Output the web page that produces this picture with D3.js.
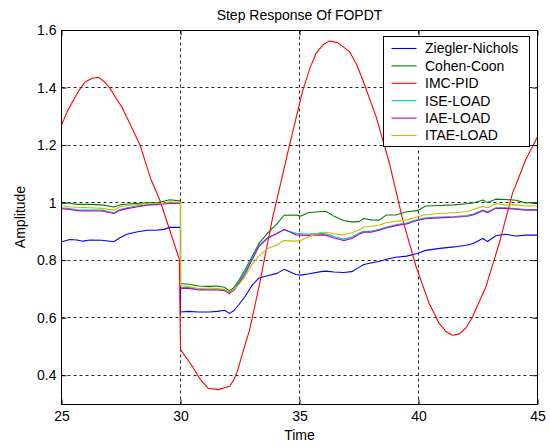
<!DOCTYPE html>
<html>
<head>
<meta charset="utf-8">
<script src="https://cdn.jsdelivr.net/npm/d3@7"></script>
<style>
  body { margin: 0; background: #fff; }
  svg { display: block; }
  text { font-family: "Liberation Sans", Arial, sans-serif; fill: #000; }
</style>
</head>
<body>
<svg id="chart" width="550" height="447"></svg>
<script>
// ---- data ----------------------------------------------------------------
// Shared time base for the five load-rejection responses (t = 30 appears twice:
// the value just before and just after the disturbance).
const time = [25.0, 25.35, 25.65, 25.9, 26.2, 26.7, 27.2, 27.45, 27.75, 28.15, 28.6, 29.0, 29.3, 29.55, 29.95, 30.0,
  30.0, 30.35, 30.75, 31.2, 31.55, 31.85, 32.05, 32.25, 32.45, 32.7, 33.0, 33.3, 33.65, 34.05, 34.35, 34.85, 35.05,
  35.35, 35.9, 36.1, 36.45, 36.85, 37.2, 37.5, 37.7, 38.0, 38.35, 38.65, 39.05, 39.5, 39.95, 40.3, 40.9, 41.5, 42.0,
  42.3, 42.7, 42.9, 43.25, 43.65, 44.1, 44.5, 45.0];

const zieglerNichols = [0.864, 0.872, 0.870, 0.866, 0.870, 0.869, 0.864, 0.878, 0.890, 0.898, 0.904, 0.904, 0.907, 0.914, 0.914, 0.914,
  0.620, 0.622, 0.620, 0.620, 0.622, 0.626, 0.615, 0.625, 0.645, 0.672, 0.712, 0.738, 0.746, 0.754, 0.768, 0.750, 0.748,
  0.752, 0.760, 0.762, 0.759, 0.757, 0.760, 0.775, 0.785, 0.790, 0.796, 0.803, 0.810, 0.814, 0.823, 0.834, 0.841, 0.846, 0.852,
  0.858, 0.875, 0.865, 0.885, 0.890, 0.884, 0.887, 0.887];

const cohenCoon = [1.000, 0.998, 0.994, 0.994, 0.994, 0.992, 0.985, 0.992, 0.995, 0.997, 0.999, 0.999, 1.005, 1.010, 1.006, 1.006,
  0.719, 0.716, 0.710, 0.709, 0.710, 0.706, 0.693, 0.705, 0.730, 0.765, 0.812, 0.858, 0.893, 0.926, 0.956, 0.957, 0.953,
  0.965, 0.969, 0.970, 0.953, 0.938, 0.933, 0.934, 0.945, 0.940, 0.939, 0.957, 0.957, 0.968, 0.972, 0.988, 0.990, 0.992, 0.996,
  0.999, 1.009, 1.000, 1.012, 1.011, 1.008, 0.999, 0.999];

const iseLoad = [0.982, 0.979, 0.975, 0.974, 0.974, 0.974, 0.965, 0.976, 0.982, 0.988, 0.993, 0.995, 0.997, 0.999, 0.999, 0.999,
  0.705, 0.705, 0.699, 0.699, 0.699, 0.697, 0.688, 0.700, 0.726, 0.757, 0.806, 0.851, 0.877, 0.893, 0.905, 0.893, 0.892,
  0.891, 0.893, 0.892, 0.882, 0.873, 0.880, 0.894, 0.900, 0.900, 0.907, 0.915, 0.923, 0.929, 0.941, 0.947, 0.950, 0.952, 0.955,
  0.960, 0.974, 0.968, 0.982, 0.982, 0.979, 0.976, 0.976];

const iaeLoad = [0.979, 0.976, 0.972, 0.971, 0.971, 0.971, 0.962, 0.973, 0.979, 0.985, 0.991, 0.993, 0.995, 0.997, 0.997, 0.997,
  0.702, 0.702, 0.696, 0.696, 0.696, 0.694, 0.684, 0.696, 0.720, 0.750, 0.800, 0.848, 0.876, 0.893, 0.907, 0.888, 0.887,
  0.886, 0.888, 0.887, 0.877, 0.868, 0.875, 0.890, 0.897, 0.897, 0.904, 0.912, 0.920, 0.926, 0.938, 0.944, 0.947, 0.949, 0.952,
  0.957, 0.972, 0.965, 0.980, 0.980, 0.977, 0.974, 0.974];

const itaeLoad = [0.991, 0.985, 0.984, 0.983, 0.982, 0.980, 0.974, 0.985, 0.990, 0.993, 0.996, 0.997, 0.998, 1.003, 1.000, 1.000,
  0.712, 0.708, 0.701, 0.703, 0.701, 0.699, 0.690, 0.700, 0.715, 0.742, 0.785, 0.815, 0.840, 0.853, 0.868, 0.866, 0.868,
  0.880, 0.897, 0.897, 0.892, 0.888, 0.895, 0.905, 0.915, 0.918, 0.922, 0.930, 0.935, 0.940, 0.950, 0.958, 0.962, 0.965, 0.968,
  0.976, 0.987, 0.982, 0.996, 0.992, 0.993, 0.988, 0.988];

// IMC-PID oscillates, so it has its own time base.
const imcTime = [25.0, 25.25, 25.5, 25.75, 26.0, 26.3, 26.55, 26.8, 27.04, 27.3, 27.53, 27.9, 28.3, 28.74, 29.13, 29.55, 29.95,
  30.0, 30.25, 30.52, 30.81, 31.15, 31.58, 32.07, 32.25, 32.4, 32.55, 32.9, 33.33, 33.6, 33.88, 34.24, 34.58, 35.14, 35.45,
  35.7, 36.0, 36.26, 36.6, 37.1, 37.4, 37.66, 38.22, 38.78, 39.34, 39.9, 40.45, 40.87, 41.15, 41.43, 41.7, 42.0, 42.27,
  42.83, 43.39, 43.95, 44.5, 45.0];
const imcPid = [1.270, 1.318, 1.356, 1.392, 1.420, 1.432, 1.436, 1.420, 1.397, 1.362, 1.333, 1.270, 1.200, 1.085, 1.009, 0.904, 0.803,
  0.490, 0.460, 0.428, 0.388, 0.355, 0.350, 0.362, 0.385, 0.417, 0.460, 0.557, 0.720, 0.835, 0.951, 1.078, 1.200, 1.391, 1.470,
  1.519, 1.550, 1.562, 1.556, 1.525, 1.480, 1.426, 1.298, 1.136, 0.939, 0.777, 0.649, 0.580, 0.552, 0.539, 0.543, 0.565, 0.603,
  0.707, 0.858, 1.032, 1.148, 1.229];

const seriesNames = ["Ziegler-Nichols", "Cohen-Coon", "IMC-PID", "ISE-LOAD", "IAE-LOAD", "ITAE-LOAD"];
const seriesColors = ["#0000ff", "#008000", "#ff0000", "#00bfbf", "#bf00bf", "#bfbf00"];

const xTicks = [25, 30, 35, 40, 45];
const yTicks = [0.4, 0.6, 0.8, 1.0, 1.2, 1.4, 1.6];
const yTickLabels = ["0.4", "0.6", "0.8", "1", "1.2", "1.4", "1.6"];

const titleText = "Step Response Of FOPDT";
const xLabel = "Time";
const yLabel = "Amplitude";

// ---- layout --------------------------------------------------------------
const plot = { left: 61.5, right: 537.5, top: 30, bottom: 404 };
const svg = d3.select("#chart");

const x = d3.scaleLinear().domain([25, 45]).range([plot.left, plot.right]);
const y = d3.scaleLinear().domain([0.3, 1.6]).range([plot.bottom, plot.top]);
const crisp = v => Math.floor(v) + 0.5;

svg.append("rect").attr("width", 550).attr("height", 447).attr("fill", "#fff");

// grid
const grid = svg.append("g").attr("stroke", "#000").attr("stroke-width", 1)
  .attr("stroke-dasharray", "3,3").attr("opacity", 0.85);
xTicks.filter(t => t > 25 && t < 45).forEach(t => {
  grid.append("line").attr("x1", crisp(x(t))).attr("x2", crisp(x(t)))
    .attr("y1", crisp(y(1.6))).attr("y2", crisp(y(0.3)));
});
yTicks.filter(v => v < 1.6).forEach(v => {
  grid.append("line").attr("y1", crisp(y(v))).attr("y2", crisp(y(v)))
    .attr("x1", plot.left).attr("x2", plot.right);
});

// curves
svg.append("clipPath").attr("id", "clip").append("rect")
  .attr("x", plot.left).attr("y", plot.top).attr("width", plot.right - plot.left).attr("height", plot.bottom - plot.top);

const line = d3.line().x(d => x(d[0])).y(d => y(d[1]));
const seriesData = [
  d3.zip(time, zieglerNichols),
  d3.zip(time, cohenCoon),
  d3.zip(imcTime, imcPid),
  d3.zip(time, iseLoad),
  d3.zip(time, iaeLoad),
  d3.zip(time, itaeLoad)
];
const curves = svg.append("g").attr("clip-path", "url(#clip)");
seriesData.forEach((pts, i) => {
  curves.append("path").attr("d", line(pts)).attr("fill", "none")
    .attr("stroke", seriesColors[i]).attr("stroke-width", 1.1).attr("stroke-linejoin", "round");
});

// axes: MATLAB-style box with inward ticks on all four sides
const fontSize = "14px";
const axB = svg.append("g").attr("transform", `translate(0,${crisp(plot.bottom)})`)
  .call(d3.axisBottom(x).tickValues(xTicks).tickFormat(d3.format("d")).tickSizeInner(-5).tickSizeOuter(0).tickPadding(7));
const axT = svg.append("g").attr("transform", `translate(0,${crisp(plot.top)})`)
  .call(d3.axisTop(x).tickValues(xTicks).tickFormat("").tickSizeInner(-5).tickSizeOuter(0));
const axL = svg.append("g").attr("transform", `translate(${plot.left},0)`)
  .call(d3.axisLeft(y).tickValues(yTicks).tickFormat((d, i) => yTickLabels[i]).tickSizeInner(-5).tickSizeOuter(0).tickPadding(5));
const axR = svg.append("g").attr("transform", `translate(${plot.right},0)`)
  .call(d3.axisRight(y).tickValues(yTicks).tickFormat("").tickSizeInner(-5).tickSizeOuter(0));
[axB, axT, axL, axR].forEach(g => {
  g.select(".domain").remove();
  g.selectAll("text").style("font-size", fontSize).style("font-family", '"Liberation Sans", Arial, sans-serif');
  g.selectAll(".tick line").attr("stroke", "#000");
});

svg.append("rect").attr("x", plot.left).attr("y", crisp(plot.top))
  .attr("width", plot.right - plot.left).attr("height", crisp(plot.bottom) - crisp(plot.top))
  .attr("fill", "none").attr("stroke", "#000").attr("stroke-width", 1);

// title and axis labels
svg.append("text").attr("x", (plot.left + plot.right) / 2).attr("y", 20)
  .attr("text-anchor", "middle").style("font-size", fontSize).text(titleText);
svg.append("text").attr("x", (plot.left + plot.right) / 2).attr("y", 440)
  .attr("text-anchor", "middle").style("font-size", fontSize).text(xLabel);
svg.append("text").attr("transform", `translate(25,${(plot.top + plot.bottom) / 2}) rotate(-90)`)
  .attr("text-anchor", "middle").style("font-size", fontSize).text(yLabel);

// legend
const lg = { x: 383.5, y: 36.5, w: 146, h: 110, row: 17.4 };
const legend = svg.append("g");
legend.append("rect").attr("x", lg.x).attr("y", lg.y).attr("width", lg.w).attr("height", lg.h)
  .attr("fill", "#fff").attr("stroke", "#000").attr("stroke-width", 1);
seriesNames.forEach((name, i) => {
  const cy = lg.y + 12 + i * lg.row;
  legend.append("line").attr("x1", lg.x + 8).attr("x2", lg.x + 33).attr("y1", cy).attr("y2", cy)
    .attr("stroke", seriesColors[i]).attr("stroke-width", 1.1);
  legend.append("text").attr("x", lg.x + 41.5).attr("y", cy).attr("dy", "0.35em")
    .style("font-size", fontSize).text(name);
});
</script>
</body>
</html>
